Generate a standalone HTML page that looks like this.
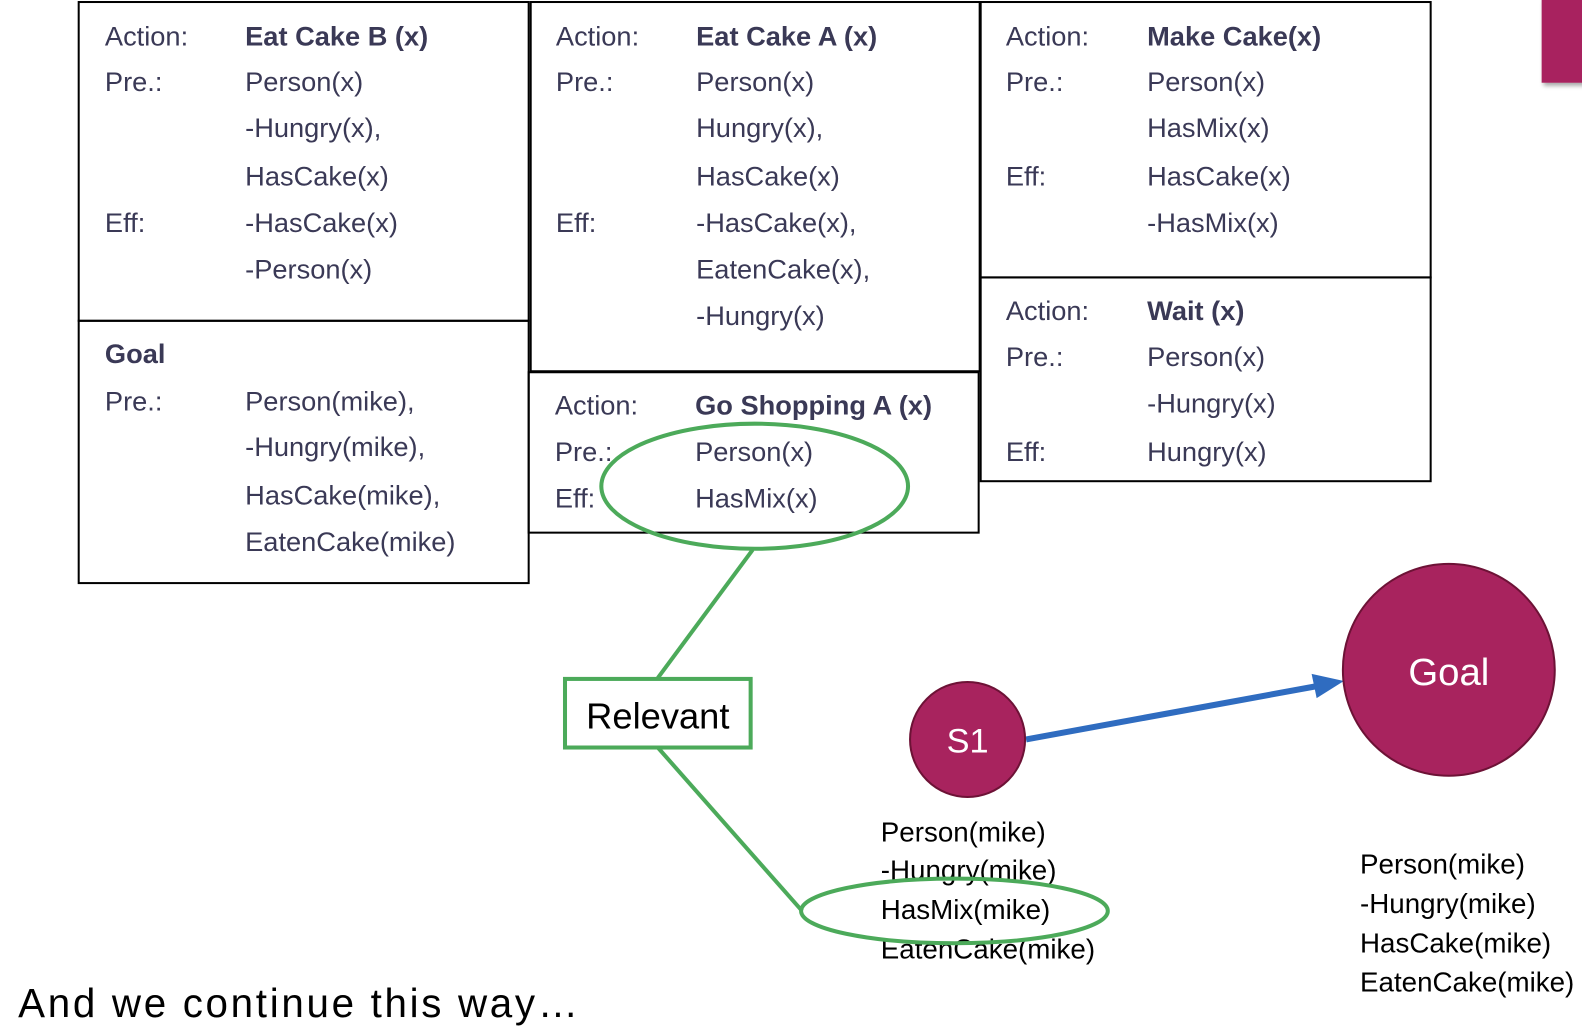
<!DOCTYPE html>
<html><head><meta charset="utf-8"><style>
html,body{margin:0;padding:0;background:#fff;}
svg{display:block;}
text{font-family:"Liberation Sans",sans-serif;}
.t{fill:#3a3956;font-size:27px;}
.b{font-weight:bold;}
.k{fill:#000;font-size:27.5px;}
</style></head><body>
<svg width="1582" height="1032" viewBox="0 0 1568 1023" preserveAspectRatio="none" xmlns="http://www.w3.org/2000/svg">
<defs>
<filter id="sh" x="-20%" y="-20%" width="140%" height="140%"><feDropShadow dx="2" dy="3" stdDeviation="2" flood-color="#000" flood-opacity="0.35"/></filter>
</defs>
<rect x="1528" y="-2" width="56" height="84" fill="#a8235e" filter="url(#sh)"/>
<g fill="none" stroke="#000" stroke-width="2">
<rect x="78" y="2" width="446" height="316"/>
<rect x="78" y="318" width="446" height="260"/>
<rect x="526" y="2" width="445" height="366"/>
<rect x="524" y="369" width="446" height="159"/>
<rect x="972" y="2" width="446" height="273"/>
<rect x="972" y="275" width="446" height="202"/>
</g>
<g class="t">
<text x="104" y="45">Action:</text><text x="243" y="45" class="b">Eat Cake B (x)</text>
<text x="104" y="90">Pre.:</text><text x="243" y="90">Person(x)</text>
<text x="243" y="136">-Hungry(x),</text>
<text x="243" y="184">HasCake(x)</text>
<text x="104" y="230">Eff:</text><text x="243" y="230">-HasCake(x)</text>
<text x="243" y="276">-Person(x)</text>

<text x="104" y="360" class="b">Goal</text>
<text x="104" y="407">Pre.:</text><text x="243" y="407">Person(mike),</text>
<text x="243" y="452">-Hungry(mike),</text>
<text x="243" y="500">HasCake(mike),</text>
<text x="243" y="546">EatenCake(mike)</text>

<text x="551" y="45">Action:</text><text x="690" y="45" class="b">Eat Cake A (x)</text>
<text x="551" y="90">Pre.:</text><text x="690" y="90">Person(x)</text>
<text x="690" y="136">Hungry(x),</text>
<text x="690" y="184">HasCake(x)</text>
<text x="551" y="230">Eff:</text><text x="690" y="230">-HasCake(x),</text>
<text x="690" y="276">EatenCake(x),</text>
<text x="690" y="322">-Hungry(x)</text>

<text x="550" y="411">Action:</text><text x="689" y="411" class="b">Go Shopping A (x)</text>
<text x="550" y="457">Pre.:</text><text x="689" y="457">Person(x)</text>
<text x="550" y="503">Eff:</text><text x="689" y="503">HasMix(x)</text>

<text x="997" y="45">Action:</text><text x="1137" y="45" class="b">Make Cake(x)</text>
<text x="997" y="90">Pre.:</text><text x="1137" y="90">Person(x)</text>
<text x="1137" y="136">HasMix(x)</text>
<text x="997" y="184">Eff:</text><text x="1137" y="184">HasCake(x)</text>
<text x="1137" y="230">-HasMix(x)</text>

<text x="997" y="317">Action:</text><text x="1137" y="317" class="b">Wait (x)</text>
<text x="997" y="363">Pre.:</text><text x="1137" y="363">Person(x)</text>
<text x="1137" y="409">-Hungry(x)</text>
<text x="997" y="457">Eff:</text><text x="1137" y="457">Hungry(x)</text>
</g>

<g class="k">
<text x="873" y="834">Person(mike)</text>
<text x="873" y="872">-Hungry(mike)</text>
<text x="873" y="911">HasMix(mike)</text>
<text x="873" y="950">EatenCake(mike)</text>
<text x="1348" y="866">Person(mike)</text>
<text x="1348" y="905">-Hungry(mike)</text>
<text x="1348" y="944">HasCake(mike)</text>
<text x="1348" y="983">EatenCake(mike)</text>
</g>

<g fill="none" stroke="#4caa5a" stroke-width="4">
<ellipse cx="748" cy="482" rx="152" ry="62"/>
<line x1="746" y1="545" x2="652" y2="672"/>
<rect x="560" y="673" width="184" height="68"/>
<line x1="652" y1="741" x2="795" y2="903"/>
<ellipse cx="946" cy="903" rx="152" ry="32"/>
</g>
<text x="652" y="722" text-anchor="middle" style="font-size:36px;fill:#000">Relevant</text>

<line x1="1017" y1="733" x2="1306" y2="680" stroke="#2f6cc0" stroke-width="6"/>
<path d="M1300,668 L1332,675 L1305,692 z" fill="#2f6cc0"/>
<circle cx="959" cy="733" r="57" fill="#a8235e" stroke="#6d1236" stroke-width="2"/>
<text x="959" y="746" text-anchor="middle" style="font-size:34px;fill:#fff">S1</text>
<circle cx="1436" cy="664" r="105" fill="#a8235e" stroke="#6d1236" stroke-width="2"/>
<text x="1436" y="679" text-anchor="middle" style="font-size:38px;fill:#fff">Goal</text>

<text x="18" y="1008" textLength="555" lengthAdjust="spacing" style="font-size:40px;fill:#000">And we continue this way…</text>
</svg>
</body></html>
